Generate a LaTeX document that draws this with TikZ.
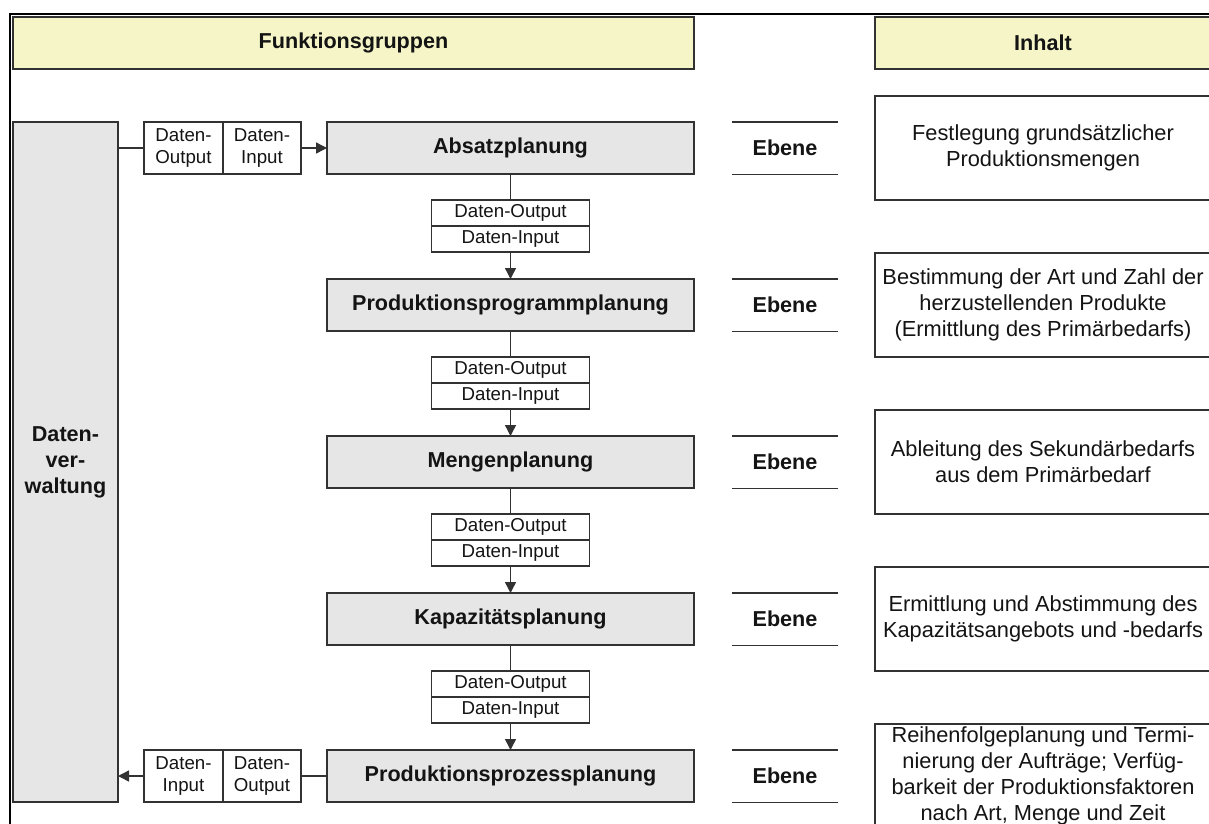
\documentclass[tikz,border=0pt]{standalone}
\usepackage{fontspec}
\setmainfont{Liberation Sans}
\usetikzlibrary{arrows.meta}
\definecolor{hdrY}{RGB}{245,245,200}
\definecolor{grayF}{RGB}{230,230,230}
\definecolor{lineC}{RGB}{50,50,50}
\definecolor{txtC}{RGB}{20,20,20}
\tikzset{
  base/.style={rectangle, inner sep=0pt, outer sep=0pt, draw=lineC, line width=1.4pt, text=txtC},
  hdr/.style={base, fill=hdrY, minimum height=52pt, font=\bfseries\fontsize{21.6}{25}\selectfont},
  plan/.style={base, fill=grayF, minimum width=367pt, minimum height=52pt, font=\bfseries\fontsize{21.6}{25}\selectfont},
  dvbox/.style={base, fill=grayF, align=center, font=\bfseries\fontsize{21.6}{26}\selectfont},
  hbox/.style={base, fill=white, minimum height=52pt, align=center, font=\fontsize{18.7}{22}\selectfont},
  vbox/.style={base, fill=white, minimum width=158pt, minimum height=26pt, font=\fontsize{18.7}{22}\selectfont},
  cbox/.style={base, fill=white, minimum width=336pt, minimum height=104pt},
  ctext/.style={inner sep=0pt, align=center, text=txtC, font=\fontsize{21.8}{26}\selectfont},
  ebene/.style={inner sep=0pt, minimum width=105pt, minimum height=52pt, text=txtC, font=\bfseries\fontsize{21.6}{25}\selectfont},
  conn/.style={draw=lineC, line width=1.4pt},
  arr/.style={conn, -{Triangle[length=11pt,width=11pt]}},
  eline/.style={draw=lineC, line width=1.4pt}
}
\begin{document}
\begin{tikzpicture}[x=1pt,y=-1pt]
\useasboundingbox (0,0) rectangle (1209,823);
% outer frame
\draw[line width=2.6pt, black] (10,830) -- (10,14) -- (1215,14);
% headers
\node[hdr, minimum width=681pt] (h1) at (353.5,43) {Funktionsgruppen};
\node[hdr, minimum width=336pt] (h2) at (1043,43) {Inhalt};
% Datenverwaltung
\node[dvbox, minimum width=105pt, minimum height=680pt] (dv) at (65.5,462) {Daten-\\ver-\\waltung};
% planning boxes
\node[plan] (p1) at (510.5,148) {Absatzplanung};
\node[plan] (p2) at (510.5,305) {Produktionsprogrammplanung};
\node[plan] (p3) at (510.5,462) {Mengenplanung};
\node[plan] (p4) at (510.5,619) {Kapazitätsplanung};
\node[plan] (p5) at (510.5,776) {Produktionsprozessplanung};
% top horizontal data boxes
\node[hbox, minimum width=79pt] (ho1) at (183.5,148) {Daten-\\Output};
\node[hbox, minimum width=78pt] (hi1) at (262,148) {Daten-\\Input};
% bottom horizontal data boxes
\node[hbox, minimum width=79pt] (hi5) at (183.5,776) {Daten-\\Input};
\node[hbox, minimum width=78pt] (ho5) at (262,776) {Daten-\\Output};
% vertical data boxes
\node[vbox] (vo1) at (510.5,213) {Daten-Output};
\node[vbox] (vi1) at (510.5,239) {Daten-Input};
\node[vbox] (vo2) at (510.5,370) {Daten-Output};
\node[vbox] (vi2) at (510.5,396) {Daten-Input};
\node[vbox] (vo3) at (510.5,527) {Daten-Output};
\node[vbox] (vi3) at (510.5,553) {Daten-Input};
\node[vbox] (vo4) at (510.5,684) {Daten-Output};
\node[vbox] (vi4) at (510.5,710) {Daten-Input};
% connectors
\draw[conn] (ho1.west -| dv.east) -- (ho1.west);
\draw[arr] (hi1.east) -- (p1.west);
\draw[conn] (p1.south) -- (vo1.north);
\draw[arr] (vi1.south) -- (p2.north);
\draw[conn] (p2.south) -- (vo2.north);
\draw[arr] (vi2.south) -- (p3.north);
\draw[conn] (p3.south) -- (vo3.north);
\draw[arr] (vi3.south) -- (p4.north);
\draw[conn] (p4.south) -- (vo4.north);
\draw[arr] (vi4.south) -- (p5.north);
\draw[conn] (p5.west) -- (ho5.east);
\draw[arr] (hi5.west) -- (hi5.west -| dv.east);
% Ebene labels
\foreach \k/\y in {1/148,2/305,3/462,4/619,5/776}{
  \node[ebene] (e\k) at (785,\y) {Ebene};
  \draw[eline] (e\k.north west) -- (e\k.north east);
  \draw[eline] (e\k.south west) -- (e\k.south east);
}
% content boxes
\node[cbox] (c1) at (1043,148) {};
\node[ctext] (t1) at (1043,148) {Festlegung grundsätzlicher\\Produktionsmengen};
\node[cbox] (c2) at (1043,305) {};
\node[ctext] (t2) at (1043,305) {Bestimmung der Art und Zahl der\\herzustellenden Produkte\\(Ermittlung des Primärbedarfs)};
\node[cbox] (c3) at (1043,462) {};
\node[ctext] (t3) at (1043,462) {Ableitung des Sekundärbedarfs\\aus dem Primärbedarf};
\node[cbox] (c4) at (1043,619) {};
\node[ctext] (t4) at (1043,619) {Ermittlung und Abstimmung des\\Kapazitätsangebots und -bedarfs};
\node[cbox] (c5) at (1043,776) {};
\node[ctext] (t5) at (1043,776) {Reihenfolgeplanung und Termi-\\nierung der Aufträge; Verfüg-\\barkeit der Produktionsfaktoren\\nach Art, Menge und Zeit};
\end{tikzpicture}
\end{document}
